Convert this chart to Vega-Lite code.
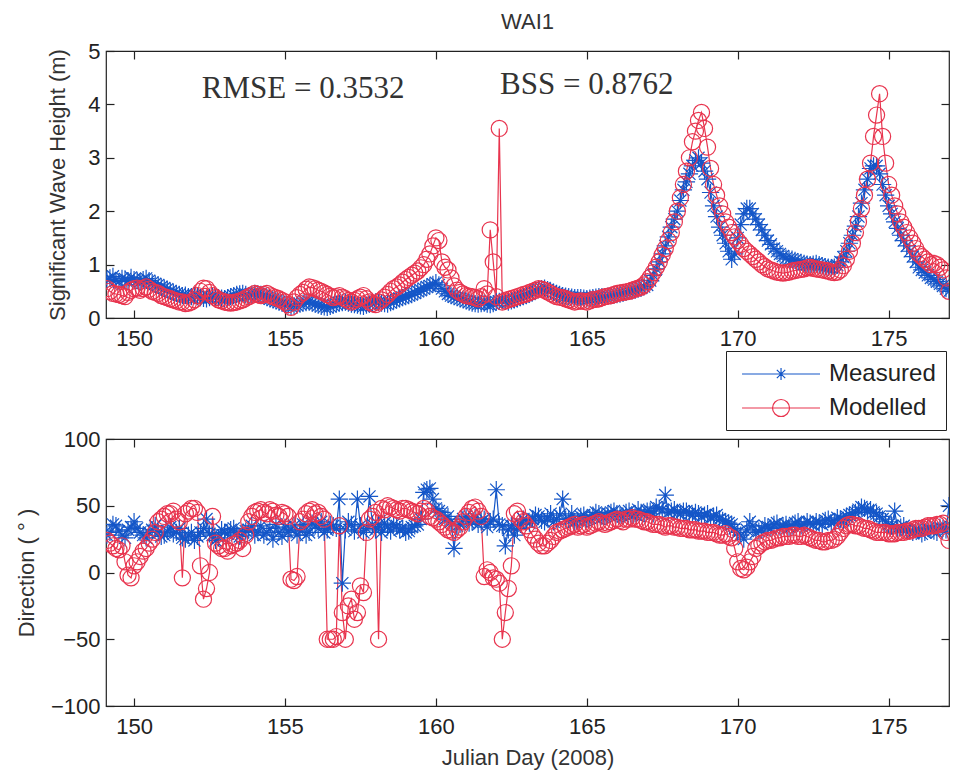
{
"$schema": "https://vega.github.io/schema/vega-lite/v6.json",
"padding": {"left": 14, "top": 10, "right": 5, "bottom": 5},
"spacing": 121,
"bounds": "flush",
"config": {
  "view": {"stroke": "#222", "strokeWidth": 1.2},
  "font": "Liberation Sans",
  "axis": {"grid": false, "domain": false, "tickColor": "#222", "tickSize": 8, "offset": -8, "tickWidth": 1.2, "labelFont": "Liberation Sans", "labelFontSize": 22, "labelColor": "#222", "titleFont": "Liberation Sans", "titleFontSize": 22, "titleFontWeight": "normal", "titleColor": "#333"},
  "axisX": {"labelPadding": 10},
  "axisY": {"labelPadding": 6}
},
"resolve": {"scale": {"color": "independent", "stroke": "independent", "shape": "independent"}},
"datasets": {
"hs": [
{"d":149.1,"Measured":0.72,"Modelled":0.55},{"d":149.2,"Measured":0.75,"Modelled":0.50},{"d":149.3,"Measured":0.78,"Modelled":0.46},{"d":149.4,"Measured":0.70,"Modelled":0.45},{"d":149.5,"Measured":0.68,"Modelled":0.44},{"d":149.6,"Measured":0.74,"Modelled":0.42},{"d":149.7,"Measured":0.73,"Modelled":0.40},{"d":149.8,"Measured":0.70,"Modelled":0.48},{"d":149.9,"Measured":0.76,"Modelled":0.52},
{"d":150.0,"Measured":0.72,"Modelled":0.55},{"d":150.1,"Measured":0.70,"Modelled":0.56},{"d":150.2,"Measured":0.68,"Modelled":0.52},{"d":150.3,"Measured":0.72,"Modelled":0.55},{"d":150.4,"Measured":0.74,"Modelled":0.58},{"d":150.5,"Measured":0.70,"Modelled":0.54},{"d":150.6,"Measured":0.66,"Modelled":0.50},{"d":150.7,"Measured":0.64,"Modelled":0.48},{"d":150.8,"Measured":0.62,"Modelled":0.46},{"d":150.9,"Measured":0.58,"Modelled":0.42},
{"d":151.0,"Measured":0.56,"Modelled":0.40},{"d":151.1,"Measured":0.54,"Modelled":0.38},{"d":151.2,"Measured":0.50,"Modelled":0.36},{"d":151.3,"Measured":0.48,"Modelled":0.34},{"d":151.4,"Measured":0.46,"Modelled":0.32},{"d":151.5,"Measured":0.44,"Modelled":0.30},{"d":151.6,"Measured":0.42,"Modelled":0.30},{"d":151.7,"Measured":0.43,"Modelled":0.27},{"d":151.8,"Measured":0.40,"Modelled":0.28},{"d":151.9,"Measured":0.40,"Modelled":0.30},
{"d":152.0,"Measured":0.42,"Modelled":0.34},{"d":152.1,"Measured":0.40,"Modelled":0.42},{"d":152.2,"Measured":0.38,"Modelled":0.50},{"d":152.3,"Measured":0.37,"Modelled":0.56},{"d":152.4,"Measured":0.36,"Modelled":0.55},{"d":152.5,"Measured":0.38,"Modelled":0.48},{"d":152.6,"Measured":0.40,"Modelled":0.42},{"d":152.7,"Measured":0.39,"Modelled":0.38},{"d":152.8,"Measured":0.38,"Modelled":0.34},{"d":152.9,"Measured":0.37,"Modelled":0.32},
{"d":153.0,"Measured":0.36,"Modelled":0.30},{"d":153.1,"Measured":0.38,"Modelled":0.29},{"d":153.2,"Measured":0.40,"Modelled":0.28},{"d":153.3,"Measured":0.42,"Modelled":0.29},{"d":153.4,"Measured":0.44,"Modelled":0.30},{"d":153.5,"Measured":0.45,"Modelled":0.32},{"d":153.6,"Measured":0.46,"Modelled":0.34},{"d":153.7,"Measured":0.44,"Modelled":0.37},{"d":153.8,"Measured":0.42,"Modelled":0.40},{"d":153.9,"Measured":0.44,"Modelled":0.43},
{"d":154.0,"Measured":0.46,"Modelled":0.46},{"d":154.1,"Measured":0.45,"Modelled":0.44},{"d":154.2,"Measured":0.44,"Modelled":0.42},{"d":154.3,"Measured":0.41,"Modelled":0.44},{"d":154.4,"Measured":0.38,"Modelled":0.46},{"d":154.5,"Measured":0.36,"Modelled":0.43},{"d":154.6,"Measured":0.34,"Modelled":0.40},{"d":154.7,"Measured":0.32,"Modelled":0.38},{"d":154.8,"Measured":0.30,"Modelled":0.36},{"d":154.9,"Measured":0.28,"Modelled":0.33},
{"d":155.0,"Measured":0.26,"Modelled":0.30},{"d":155.1,"Measured":0.24,"Modelled":0.25},{"d":155.2,"Measured":0.22,"Modelled":0.20},{"d":155.3,"Measured":0.23,"Modelled":0.30},{"d":155.4,"Measured":0.24,"Modelled":0.38},{"d":155.5,"Measured":0.26,"Modelled":0.44},{"d":155.6,"Measured":0.28,"Modelled":0.48},{"d":155.7,"Measured":0.29,"Modelled":0.54},{"d":155.8,"Measured":0.30,"Modelled":0.58},{"d":155.9,"Measured":0.28,"Modelled":0.57},
{"d":156.0,"Measured":0.26,"Modelled":0.55},{"d":156.1,"Measured":0.24,"Modelled":0.52},{"d":156.2,"Measured":0.22,"Modelled":0.50},{"d":156.3,"Measured":0.21,"Modelled":0.47},{"d":156.4,"Measured":0.20,"Modelled":0.44},{"d":156.5,"Measured":0.22,"Modelled":0.41},{"d":156.6,"Measured":0.24,"Modelled":0.38},{"d":156.7,"Measured":0.26,"Modelled":0.40},{"d":156.8,"Measured":0.28,"Modelled":0.42},{"d":156.9,"Measured":0.29,"Modelled":0.39},
{"d":157.0,"Measured":0.30,"Modelled":0.36},{"d":157.1,"Measured":0.28,"Modelled":0.33},{"d":157.2,"Measured":0.26,"Modelled":0.30},{"d":157.3,"Measured":0.25,"Modelled":0.33},{"d":157.4,"Measured":0.24,"Modelled":0.36},{"d":157.5,"Measured":0.23,"Modelled":0.39},{"d":157.6,"Measured":0.22,"Modelled":0.42},{"d":157.7,"Measured":0.24,"Modelled":0.36},{"d":157.8,"Measured":0.26,"Modelled":0.30},{"d":157.9,"Measured":0.28,"Modelled":0.27},
{"d":158.0,"Measured":0.30,"Modelled":0.25},{"d":158.1,"Measured":0.29,"Modelled":0.30},{"d":158.2,"Measured":0.28,"Modelled":0.34},{"d":158.3,"Measured":0.27,"Modelled":0.39},{"d":158.4,"Measured":0.26,"Modelled":0.44},{"d":158.5,"Measured":0.29,"Modelled":0.50},{"d":158.6,"Measured":0.32,"Modelled":0.55},{"d":158.7,"Measured":0.34,"Modelled":0.58},{"d":158.8,"Measured":0.36,"Modelled":0.62},{"d":158.9,"Measured":0.38,"Modelled":0.67},
{"d":159.0,"Measured":0.40,"Modelled":0.72},{"d":159.1,"Measured":0.42,"Modelled":0.76},{"d":159.2,"Measured":0.44,"Modelled":0.80},{"d":159.3,"Measured":0.47,"Modelled":0.84},{"d":159.4,"Measured":0.50,"Modelled":0.88},{"d":159.5,"Measured":0.52,"Modelled":0.94},{"d":159.6,"Measured":0.55,"Modelled":1.00},{"d":159.7,"Measured":0.58,"Modelled":1.10},{"d":159.8,"Measured":0.60,"Modelled":1.20},{"d":159.9,"Measured":0.63,"Modelled":1.35},
{"d":160.0,"Measured":0.66,"Modelled":1.50},{"d":160.1,"Measured":0.62,"Modelled":1.45},{"d":160.2,"Measured":0.55,"Modelled":1.05},{"d":160.3,"Measured":0.50,"Modelled":0.95},{"d":160.4,"Measured":0.45,"Modelled":0.90},{"d":160.5,"Measured":0.42,"Modelled":0.75},{"d":160.6,"Measured":0.40,"Modelled":0.60},{"d":160.7,"Measured":0.38,"Modelled":0.52},{"d":160.8,"Measured":0.36,"Modelled":0.48},{"d":160.9,"Measured":0.34,"Modelled":0.45},
{"d":161.0,"Measured":0.32,"Modelled":0.42},{"d":161.1,"Measured":0.30,"Modelled":0.41},{"d":161.2,"Measured":0.28,"Modelled":0.40},{"d":161.3,"Measured":0.27,"Modelled":0.38},{"d":161.4,"Measured":0.26,"Modelled":0.36},{"d":161.5,"Measured":0.27,"Modelled":0.40},{"d":161.6,"Measured":0.28,"Modelled":0.55},{"d":161.7,"Measured":0.26,"Modelled":0.45},{"d":161.8,"Measured":0.25,"Modelled":1.65},{"d":161.9,"Measured":0.27,"Modelled":1.05},
{"d":162.0,"Measured":0.30,"Modelled":0.40},{"d":162.1,"Measured":0.31,"Modelled":3.55},{"d":162.2,"Measured":0.32,"Modelled":0.30},{"d":162.3,"Measured":0.31,"Modelled":0.32},{"d":162.4,"Measured":0.30,"Modelled":0.35},{"d":162.5,"Measured":0.32,"Modelled":0.36},{"d":162.6,"Measured":0.34,"Modelled":0.38},{"d":162.7,"Measured":0.36,"Modelled":0.40},{"d":162.8,"Measured":0.38,"Modelled":0.42},{"d":162.9,"Measured":0.40,"Modelled":0.44},
{"d":163.0,"Measured":0.42,"Modelled":0.45},{"d":163.1,"Measured":0.45,"Modelled":0.48},{"d":163.2,"Measured":0.48,"Modelled":0.50},{"d":163.3,"Measured":0.51,"Modelled":0.52},{"d":163.4,"Measured":0.54,"Modelled":0.55},{"d":163.5,"Measured":0.55,"Modelled":0.54},{"d":163.6,"Measured":0.56,"Modelled":0.52},{"d":163.7,"Measured":0.53,"Modelled":0.49},{"d":163.8,"Measured":0.50,"Modelled":0.46},{"d":163.9,"Measured":0.48,"Modelled":0.43},
{"d":164.0,"Measured":0.46,"Modelled":0.40},{"d":164.1,"Measured":0.44,"Modelled":0.39},{"d":164.2,"Measured":0.42,"Modelled":0.38},{"d":164.3,"Measured":0.41,"Modelled":0.36},{"d":164.4,"Measured":0.40,"Modelled":0.34},{"d":164.5,"Measured":0.39,"Modelled":0.32},{"d":164.6,"Measured":0.38,"Modelled":0.30},{"d":164.7,"Measured":0.38,"Modelled":0.31},{"d":164.8,"Measured":0.38,"Modelled":0.32},{"d":164.9,"Measured":0.37,"Modelled":0.31},
{"d":165.0,"Measured":0.36,"Modelled":0.30},{"d":165.1,"Measured":0.37,"Modelled":0.32},{"d":165.2,"Measured":0.38,"Modelled":0.35},{"d":165.3,"Measured":0.39,"Modelled":0.35},{"d":165.4,"Measured":0.40,"Modelled":0.36},{"d":165.5,"Measured":0.40,"Modelled":0.38},{"d":165.6,"Measured":0.40,"Modelled":0.40},{"d":165.7,"Measured":0.41,"Modelled":0.41},{"d":165.8,"Measured":0.42,"Modelled":0.42},{"d":165.9,"Measured":0.43,"Modelled":0.44},
{"d":166.0,"Measured":0.44,"Modelled":0.46},{"d":166.1,"Measured":0.45,"Modelled":0.47},{"d":166.2,"Measured":0.46,"Modelled":0.48},{"d":166.3,"Measured":0.48,"Modelled":0.49},{"d":166.4,"Measured":0.50,"Modelled":0.50},{"d":166.5,"Measured":0.51,"Modelled":0.52},{"d":166.6,"Measured":0.52,"Modelled":0.54},{"d":166.7,"Measured":0.54,"Modelled":0.56},{"d":166.8,"Measured":0.56,"Modelled":0.58},{"d":166.9,"Measured":0.59,"Modelled":0.62},
{"d":167.0,"Measured":0.62,"Modelled":0.68},{"d":167.1,"Measured":0.70,"Modelled":0.76},{"d":167.2,"Measured":0.80,"Modelled":0.85},{"d":167.3,"Measured":0.92,"Modelled":0.95},{"d":167.4,"Measured":1.05,"Modelled":1.05},{"d":167.5,"Measured":1.20,"Modelled":1.18},{"d":167.6,"Measured":1.35,"Modelled":1.30},{"d":167.7,"Measured":1.52,"Modelled":1.45},{"d":167.8,"Measured":1.70,"Modelled":1.60},{"d":167.9,"Measured":1.85,"Modelled":1.80},
{"d":168.0,"Measured":2.00,"Modelled":2.00},{"d":168.1,"Measured":2.20,"Modelled":2.25},{"d":168.2,"Measured":2.40,"Modelled":2.50},{"d":168.3,"Measured":2.55,"Modelled":2.75},{"d":168.4,"Measured":2.70,"Modelled":3.00},{"d":168.5,"Measured":2.85,"Modelled":3.30},{"d":168.6,"Measured":2.95,"Modelled":3.50},{"d":168.7,"Measured":3.00,"Modelled":3.70},{"d":168.8,"Measured":2.90,"Modelled":3.85},{"d":168.9,"Measured":2.75,"Modelled":3.55},
{"d":169.0,"Measured":2.60,"Modelled":3.20},{"d":169.1,"Measured":2.35,"Modelled":2.80},{"d":169.2,"Measured":2.10,"Modelled":2.50},{"d":169.3,"Measured":1.90,"Modelled":2.30},{"d":169.4,"Measured":1.70,"Modelled":2.10},{"d":169.5,"Measured":1.55,"Modelled":1.95},{"d":169.6,"Measured":1.40,"Modelled":1.80},{"d":169.7,"Measured":1.25,"Modelled":1.70},{"d":169.8,"Measured":1.10,"Modelled":1.60},{"d":169.9,"Measured":1.20,"Modelled":1.52},
{"d":170.0,"Measured":1.50,"Modelled":1.45},{"d":170.1,"Measured":1.75,"Modelled":1.38},{"d":170.2,"Measured":1.95,"Modelled":1.30},{"d":170.3,"Measured":2.05,"Modelled":1.25},{"d":170.4,"Measured":2.05,"Modelled":1.20},{"d":170.5,"Measured":1.95,"Modelled":1.15},{"d":170.6,"Measured":1.85,"Modelled":1.10},{"d":170.7,"Measured":1.75,"Modelled":1.05},{"d":170.8,"Measured":1.65,"Modelled":1.00},{"d":170.9,"Measured":1.55,"Modelled":0.96},
{"d":171.0,"Measured":1.45,"Modelled":0.92},{"d":171.1,"Measured":1.38,"Modelled":0.90},{"d":171.2,"Measured":1.30,"Modelled":0.88},{"d":171.3,"Measured":1.25,"Modelled":0.86},{"d":171.4,"Measured":1.20,"Modelled":0.85},{"d":171.5,"Measured":1.16,"Modelled":0.84},{"d":171.6,"Measured":1.12,"Modelled":0.85},{"d":171.7,"Measured":1.10,"Modelled":0.86},{"d":171.8,"Measured":1.10,"Modelled":0.88},{"d":171.9,"Measured":1.08,"Modelled":0.89},
{"d":172.0,"Measured":1.05,"Modelled":0.90},{"d":172.1,"Measured":1.04,"Modelled":0.91},{"d":172.2,"Measured":1.02,"Modelled":0.92},{"d":172.3,"Measured":1.01,"Modelled":0.94},{"d":172.4,"Measured":1.00,"Modelled":0.95},{"d":172.5,"Measured":1.01,"Modelled":0.93},{"d":172.6,"Measured":1.02,"Modelled":0.92},{"d":172.7,"Measured":1.00,"Modelled":0.91},{"d":172.8,"Measured":0.98,"Modelled":0.90},{"d":172.9,"Measured":0.96,"Modelled":0.89},
{"d":173.0,"Measured":0.95,"Modelled":0.88},{"d":173.1,"Measured":0.94,"Modelled":0.86},{"d":173.2,"Measured":0.95,"Modelled":0.85},{"d":173.3,"Measured":0.99,"Modelled":0.86},{"d":173.4,"Measured":1.05,"Modelled":0.90},{"d":173.5,"Measured":1.14,"Modelled":0.98},{"d":173.6,"Measured":1.25,"Modelled":1.10},{"d":173.7,"Measured":1.40,"Modelled":1.25},{"d":173.8,"Measured":1.55,"Modelled":1.40},{"d":173.9,"Measured":1.72,"Modelled":1.60},
{"d":174.0,"Measured":1.90,"Modelled":1.80},{"d":174.1,"Measured":2.15,"Modelled":2.05},{"d":174.2,"Measured":2.40,"Modelled":2.30},{"d":174.3,"Measured":2.60,"Modelled":2.60},{"d":174.4,"Measured":2.80,"Modelled":2.90},{"d":174.5,"Measured":2.85,"Modelled":3.40},{"d":174.6,"Measured":2.85,"Modelled":3.80},{"d":174.7,"Measured":2.70,"Modelled":4.20},{"d":174.8,"Measured":2.50,"Modelled":3.40},{"d":174.9,"Measured":2.30,"Modelled":2.90},
{"d":175.0,"Measured":2.10,"Modelled":2.50},{"d":175.1,"Measured":1.95,"Modelled":2.30},{"d":175.2,"Measured":1.80,"Modelled":2.10},{"d":175.3,"Measured":1.68,"Modelled":1.95},{"d":175.4,"Measured":1.55,"Modelled":1.80},{"d":175.5,"Measured":1.45,"Modelled":1.70},{"d":175.6,"Measured":1.35,"Modelled":1.60},{"d":175.7,"Measured":1.25,"Modelled":1.50},{"d":175.8,"Measured":1.15,"Modelled":1.40},{"d":175.9,"Measured":1.05,"Modelled":1.30},
{"d":176.0,"Measured":0.95,"Modelled":1.20},{"d":176.1,"Measured":0.90,"Modelled":1.15},{"d":176.2,"Measured":0.85,"Modelled":1.10},{"d":176.3,"Measured":0.80,"Modelled":1.05},{"d":176.4,"Measured":0.75,"Modelled":1.00},{"d":176.5,"Measured":0.72,"Modelled":1.02},{"d":176.6,"Measured":0.68,"Modelled":1.00},{"d":176.7,"Measured":0.64,"Modelled":0.95},{"d":176.8,"Measured":0.60,"Modelled":0.90},{"d":176.9,"Measured":0.55,"Modelled":0.75},
{"d":177.0,"Measured":0.50,"Modelled":0.50}
],
"dir": [
{"d":149.1,"Measured":28,"Modelled":24},{"d":149.2,"Measured":30,"Modelled":22},{"d":149.3,"Measured":36,"Modelled":20},{"d":149.4,"Measured":35,"Modelled":18},{"d":149.5,"Measured":31,"Modelled":17},{"d":149.6,"Measured":28,"Modelled":20},{"d":149.7,"Measured":26,"Modelled":8},{"d":149.8,"Measured":32,"Modelled":-2},{"d":149.9,"Measured":34,"Modelled":-4},
{"d":150.0,"Measured":38,"Modelled":5},{"d":150.1,"Measured":33,"Modelled":8},{"d":150.2,"Measured":30,"Modelled":12},{"d":150.3,"Measured":28,"Modelled":16},{"d":150.4,"Measured":26,"Modelled":18},{"d":150.5,"Measured":30,"Modelled":22},{"d":150.6,"Measured":32,"Modelled":25},{"d":150.7,"Measured":35,"Modelled":30},{"d":150.8,"Measured":30,"Modelled":38},{"d":150.9,"Measured":27,"Modelled":40},
{"d":151.0,"Measured":28,"Modelled":42},{"d":151.1,"Measured":31,"Modelled":44},{"d":151.2,"Measured":34,"Modelled":44},{"d":151.3,"Measured":29,"Modelled":46},{"d":151.4,"Measured":30,"Modelled":40},{"d":151.5,"Measured":33,"Modelled":38},{"d":151.6,"Measured":26,"Modelled":-4},{"d":151.7,"Measured":25,"Modelled":44},{"d":151.8,"Measured":28,"Modelled":46},{"d":151.9,"Measured":30,"Modelled":48},
{"d":152.0,"Measured":24,"Modelled":48},{"d":152.1,"Measured":27,"Modelled":45},{"d":152.2,"Measured":30,"Modelled":5},{"d":152.3,"Measured":33,"Modelled":-20},{"d":152.4,"Measured":40,"Modelled":-12},{"d":152.5,"Measured":29,"Modelled":0},{"d":152.6,"Measured":28,"Modelled":42},{"d":152.7,"Measured":24,"Modelled":22},{"d":152.8,"Measured":26,"Modelled":20},{"d":152.9,"Measured":32,"Modelled":18},
{"d":153.0,"Measured":30,"Modelled":18},{"d":153.1,"Measured":29,"Modelled":16},{"d":153.2,"Measured":32,"Modelled":20},{"d":153.3,"Measured":33,"Modelled":21},{"d":153.4,"Measured":28,"Modelled":22},{"d":153.5,"Measured":27,"Modelled":24},{"d":153.6,"Measured":30,"Modelled":18},{"d":153.7,"Measured":31,"Modelled":28},{"d":153.8,"Measured":32,"Modelled":38},{"d":153.9,"Measured":35,"Modelled":42},
{"d":154.0,"Measured":28,"Modelled":45},{"d":154.1,"Measured":30,"Modelled":46},{"d":154.2,"Measured":35,"Modelled":47},{"d":154.3,"Measured":28,"Modelled":45},{"d":154.4,"Measured":30,"Modelled":44},{"d":154.5,"Measured":33,"Modelled":47},{"d":154.6,"Measured":25,"Modelled":46},{"d":154.7,"Measured":36,"Modelled":43},{"d":154.8,"Measured":30,"Modelled":42},{"d":154.9,"Measured":27,"Modelled":45},
{"d":155.0,"Measured":34,"Modelled":44},{"d":155.1,"Measured":30,"Modelled":42},{"d":155.2,"Measured":32,"Modelled":-5},{"d":155.3,"Measured":35,"Modelled":-6},{"d":155.4,"Measured":28,"Modelled":-3},{"d":155.5,"Measured":31,"Modelled":38},{"d":155.6,"Measured":36,"Modelled":40},{"d":155.7,"Measured":28,"Modelled":44},{"d":155.8,"Measured":30,"Modelled":46},{"d":155.9,"Measured":37,"Modelled":47},
{"d":156.0,"Measured":35,"Modelled":44},{"d":156.1,"Measured":33,"Modelled":45},{"d":156.2,"Measured":38,"Modelled":42},{"d":156.3,"Measured":30,"Modelled":40},{"d":156.4,"Measured":32,"Modelled":-50},{"d":156.5,"Measured":36,"Modelled":-50},{"d":156.6,"Measured":35,"Modelled":-50},{"d":156.7,"Measured":33,"Modelled":-48},{"d":156.8,"Measured":55,"Modelled":35},{"d":156.9,"Measured":-8,"Modelled":-30},
{"d":157.0,"Measured":32,"Modelled":-50},{"d":157.1,"Measured":38,"Modelled":-25},{"d":157.2,"Measured":36,"Modelled":-20},{"d":157.3,"Measured":31,"Modelled":-35},{"d":157.4,"Measured":55,"Modelled":-30},{"d":157.5,"Measured":35,"Modelled":-10},{"d":157.6,"Measured":30,"Modelled":-15},{"d":157.7,"Measured":33,"Modelled":30},{"d":157.8,"Measured":57,"Modelled":40},{"d":157.9,"Measured":36,"Modelled":42},
{"d":158.0,"Measured":32,"Modelled":45},{"d":158.1,"Measured":36,"Modelled":-50},{"d":158.2,"Measured":30,"Modelled":48},{"d":158.3,"Measured":37,"Modelled":47},{"d":158.4,"Measured":34,"Modelled":50},{"d":158.5,"Measured":31,"Modelled":49},{"d":158.6,"Measured":36,"Modelled":48},{"d":158.7,"Measured":35,"Modelled":47},{"d":158.8,"Measured":32,"Modelled":46},{"d":158.9,"Measured":33,"Modelled":48},
{"d":159.0,"Measured":30,"Modelled":48},{"d":159.1,"Measured":31,"Modelled":47},{"d":159.2,"Measured":34,"Modelled":46},{"d":159.3,"Measured":35,"Modelled":45},{"d":159.4,"Measured":36,"Modelled":44},{"d":159.5,"Measured":40,"Modelled":46},{"d":159.6,"Measured":60,"Modelled":48},{"d":159.7,"Measured":62,"Modelled":46},{"d":159.8,"Measured":63,"Modelled":42},{"d":159.9,"Measured":55,"Modelled":41},
{"d":160.0,"Measured":48,"Modelled":40},{"d":160.1,"Measured":46,"Modelled":38},{"d":160.2,"Measured":45,"Modelled":36},{"d":160.3,"Measured":40,"Modelled":34},{"d":160.4,"Measured":42,"Modelled":32},{"d":160.5,"Measured":38,"Modelled":31},{"d":160.6,"Measured":18,"Modelled":30},{"d":160.7,"Measured":35,"Modelled":32},{"d":160.8,"Measured":36,"Modelled":34},{"d":160.9,"Measured":40,"Modelled":38},
{"d":161.0,"Measured":42,"Modelled":42},{"d":161.1,"Measured":37,"Modelled":45},{"d":161.2,"Measured":38,"Modelled":48},{"d":161.3,"Measured":41,"Modelled":49},{"d":161.4,"Measured":36,"Modelled":46},{"d":161.5,"Measured":38,"Modelled":42},{"d":161.6,"Measured":40,"Modelled":-3},{"d":161.7,"Measured":34,"Modelled":2},{"d":161.8,"Measured":38,"Modelled":0},{"d":161.9,"Measured":40,"Modelled":-4},
{"d":162.0,"Measured":62,"Modelled":-5},{"d":162.1,"Measured":36,"Modelled":-8},{"d":162.2,"Measured":35,"Modelled":-50},{"d":162.3,"Measured":20,"Modelled":-30},{"d":162.4,"Measured":32,"Modelled":-12},{"d":162.5,"Measured":35,"Modelled":5},{"d":162.6,"Measured":28,"Modelled":44},{"d":162.7,"Measured":33,"Modelled":46},{"d":162.8,"Measured":36,"Modelled":40},{"d":162.9,"Measured":40,"Modelled":38},
{"d":163.0,"Measured":38,"Modelled":35},{"d":163.1,"Measured":37,"Modelled":32},{"d":163.2,"Measured":40,"Modelled":28},{"d":163.3,"Measured":43,"Modelled":25},{"d":163.4,"Measured":42,"Modelled":22},{"d":163.5,"Measured":39,"Modelled":20},{"d":163.6,"Measured":38,"Modelled":20},{"d":163.7,"Measured":41,"Modelled":22},{"d":163.8,"Measured":44,"Modelled":24},{"d":163.9,"Measured":38,"Modelled":27},
{"d":164.0,"Measured":40,"Modelled":30},{"d":164.1,"Measured":43,"Modelled":31},{"d":164.2,"Measured":55,"Modelled":32},{"d":164.3,"Measured":40,"Modelled":33},{"d":164.4,"Measured":40,"Modelled":34},{"d":164.5,"Measured":44,"Modelled":35},{"d":164.6,"Measured":38,"Modelled":36},{"d":164.7,"Measured":39,"Modelled":34},{"d":164.8,"Measured":42,"Modelled":35},{"d":164.9,"Measured":43,"Modelled":36},
{"d":165.0,"Measured":40,"Modelled":34},{"d":165.1,"Measured":41,"Modelled":35},{"d":165.2,"Measured":43,"Modelled":36},{"d":165.3,"Measured":45,"Modelled":37},{"d":165.4,"Measured":44,"Modelled":38},{"d":165.5,"Measured":42,"Modelled":37},{"d":165.6,"Measured":42,"Modelled":36},{"d":165.7,"Measured":44,"Modelled":37},{"d":165.8,"Measured":45,"Modelled":38},{"d":165.9,"Measured":46,"Modelled":39},
{"d":166.0,"Measured":44,"Modelled":40},{"d":166.1,"Measured":43,"Modelled":39},{"d":166.2,"Measured":42,"Modelled":38},{"d":166.3,"Measured":45,"Modelled":40},{"d":166.4,"Measured":46,"Modelled":40},{"d":166.5,"Measured":43,"Modelled":41},{"d":166.6,"Measured":44,"Modelled":40},{"d":166.7,"Measured":47,"Modelled":40},{"d":166.8,"Measured":45,"Modelled":39},{"d":166.9,"Measured":44,"Modelled":38},
{"d":167.0,"Measured":46,"Modelled":38},{"d":167.1,"Measured":46,"Modelled":37},{"d":167.2,"Measured":44,"Modelled":36},{"d":167.3,"Measured":49,"Modelled":36},{"d":167.4,"Measured":48,"Modelled":36},{"d":167.5,"Measured":47,"Modelled":35},{"d":167.6,"Measured":58,"Modelled":34},{"d":167.7,"Measured":45,"Modelled":35},{"d":167.8,"Measured":46,"Modelled":35},{"d":167.9,"Measured":47,"Modelled":34},
{"d":168.0,"Measured":45,"Modelled":34},{"d":168.1,"Measured":44,"Modelled":33},{"d":168.2,"Measured":46,"Modelled":33},{"d":168.3,"Measured":46,"Modelled":33},{"d":168.4,"Measured":44,"Modelled":32},{"d":168.5,"Measured":43,"Modelled":32},{"d":168.6,"Measured":45,"Modelled":32},{"d":168.7,"Measured":44,"Modelled":31},{"d":168.8,"Measured":42,"Modelled":31},{"d":168.9,"Measured":43,"Modelled":31},
{"d":169.0,"Measured":44,"Modelled":30},{"d":169.1,"Measured":41,"Modelled":30},{"d":169.2,"Measured":42,"Modelled":30},{"d":169.3,"Measured":43,"Modelled":29},{"d":169.4,"Measured":40,"Modelled":28},{"d":169.5,"Measured":39,"Modelled":28},{"d":169.6,"Measured":38,"Modelled":29},{"d":169.7,"Measured":37,"Modelled":27},{"d":169.8,"Measured":36,"Modelled":26},{"d":169.9,"Measured":33,"Modelled":18},
{"d":170.0,"Measured":30,"Modelled":8},{"d":170.1,"Measured":28,"Modelled":3},{"d":170.2,"Measured":25,"Modelled":2},{"d":170.3,"Measured":32,"Modelled":4},{"d":170.4,"Measured":38,"Modelled":8},{"d":170.5,"Measured":35,"Modelled":12},{"d":170.6,"Measured":30,"Modelled":18},{"d":170.7,"Measured":31,"Modelled":20},{"d":170.8,"Measured":32,"Modelled":22},{"d":170.9,"Measured":35,"Modelled":23},
{"d":171.0,"Measured":34,"Modelled":24},{"d":171.1,"Measured":33,"Modelled":24},{"d":171.2,"Measured":36,"Modelled":25},{"d":171.3,"Measured":37,"Modelled":26},{"d":171.4,"Measured":34,"Modelled":26},{"d":171.5,"Measured":35,"Modelled":27},{"d":171.6,"Measured":36,"Modelled":27},{"d":171.7,"Measured":34,"Modelled":27},{"d":171.8,"Measured":35,"Modelled":28},{"d":171.9,"Measured":37,"Modelled":28},
{"d":172.0,"Measured":38,"Modelled":27},{"d":172.1,"Measured":35,"Modelled":27},{"d":172.2,"Measured":36,"Modelled":28},{"d":172.3,"Measured":38,"Modelled":27},{"d":172.4,"Measured":37,"Modelled":26},{"d":172.5,"Measured":36,"Modelled":25},{"d":172.6,"Measured":38,"Modelled":24},{"d":172.7,"Measured":37,"Modelled":24},{"d":172.8,"Measured":36,"Modelled":23},{"d":172.9,"Measured":39,"Modelled":23},
{"d":173.0,"Measured":40,"Modelled":24},{"d":173.1,"Measured":37,"Modelled":24},{"d":173.2,"Measured":38,"Modelled":25},{"d":173.3,"Measured":41,"Modelled":27},{"d":173.4,"Measured":40,"Modelled":30},{"d":173.5,"Measured":39,"Modelled":33},{"d":173.6,"Measured":42,"Modelled":35},{"d":173.7,"Measured":43,"Modelled":36},{"d":173.8,"Measured":44,"Modelled":36},{"d":173.9,"Measured":45,"Modelled":35},
{"d":174.0,"Measured":47,"Modelled":35},{"d":174.1,"Measured":49,"Modelled":34},{"d":174.2,"Measured":48,"Modelled":33},{"d":174.3,"Measured":46,"Modelled":33},{"d":174.4,"Measured":47,"Modelled":32},{"d":174.5,"Measured":45,"Modelled":31},{"d":174.6,"Measured":44,"Modelled":30},{"d":174.7,"Measured":42,"Modelled":30},{"d":174.8,"Measured":40,"Modelled":30},{"d":174.9,"Measured":38,"Modelled":30},
{"d":175.0,"Measured":36,"Modelled":29},{"d":175.1,"Measured":35,"Modelled":29},{"d":175.2,"Measured":46,"Modelled":29},{"d":175.3,"Measured":33,"Modelled":30},{"d":175.4,"Measured":34,"Modelled":30},{"d":175.5,"Measured":35,"Modelled":30},{"d":175.6,"Measured":32,"Modelled":31},{"d":175.7,"Measured":31,"Modelled":31},{"d":175.8,"Measured":30,"Modelled":32},{"d":175.9,"Measured":32,"Modelled":33},
{"d":176.0,"Measured":31,"Modelled":33},{"d":176.1,"Measured":29,"Modelled":33},{"d":176.2,"Measured":30,"Modelled":34},{"d":176.3,"Measured":33,"Modelled":35},{"d":176.4,"Measured":32,"Modelled":35},{"d":176.5,"Measured":31,"Modelled":35},{"d":176.6,"Measured":30,"Modelled":36},{"d":176.7,"Measured":34,"Modelled":36},{"d":176.8,"Measured":33,"Modelled":37},{"d":176.9,"Measured":32,"Modelled":30},
{"d":177.0,"Measured":50,"Modelled":24}
],
"notes": [{"d":155.6,"h":4.12,"label":"RMSE = 0.3532"},{"d":165.0,"h":4.2,"label":"BSS = 0.8762"}]
},
"vconcat": [
{
  "width": 843, "height": 267,
  "title": {"text": "WAI1", "fontSize": 22, "fontWeight": "normal", "color": "#333", "font": "Liberation Sans", "anchor": "middle", "frame": "group", "offset": 6},
  "layer": [
    {
      "data": {"name": "hs"},
      "transform": [{"fold": ["Measured", "Modelled"], "as": ["series", "value"]}, {"filter": "isValid(datum.value)"}],
      "mark": {"type": "line", "strokeWidth": 1.2, "clip": true},
      "encoding": {
        "x": {"field": "d", "type": "quantitative", "scale": {"domain": [149.07, 177], "nice": false, "zero": false}, "axis": {"orient": "bottom", "values": [150,155,160,165,170,175], "title": null}},
        "y": {"field": "value", "type": "quantitative", "scale": {"domain": [0, 5], "nice": false}, "axis": {"orient": "left", "values": [0,1,2,3,4,5], "title": "Significant Wave Height (m)", "titlePadding": 18}},
        "color": {"field": "series", "type": "nominal", "scale": {"domain": ["Measured", "Modelled"], "range": ["#1456c8", "#e8344e"]},
          "legend": {"orient": "none", "legendX": 620, "legendY": 300, "title": null, "strokeColor": "#222", "fillColor": "white", "padding": 10, "labelFontSize": 24, "labelFont": "Liberation Sans", "labelColor": "#222", "symbolSize": 576, "symbolStrokeWidth": 1.2, "symbolOpacity": 1, "rowPadding": 9, "labelOffset": 67}}
      }
    },
    {
      "data": {"name": "hs"},
      "transform": [{"fold": ["Measured"], "as": ["series", "value"]}, {"filter": "isValid(datum.value)"}],
      "mark": {"type": "point", "shape": "M-1,0L1,0M0,-1L0,1M-0.7,-0.7L0.7,0.7M-0.7,0.7L0.7,-0.7", "filled": false, "size": 300, "strokeWidth": 1.2, "stroke": "#1456c8", "opacity": 1, "clip": true},
      "encoding": {
        "x": {"field": "d", "type": "quantitative", "scale": {"domain": [149.07, 177], "nice": false, "zero": false}, "axis": null},
        "y": {"field": "value", "type": "quantitative", "scale": {"domain": [0, 5], "nice": false}, "axis": null}
      }
    },
    {
      "data": {"name": "hs"},
      "transform": [{"fold": ["Modelled"], "as": ["series", "value"]}, {"filter": "isValid(datum.value)"}],
      "mark": {"type": "point", "shape": "circle", "filled": false, "size": 260, "strokeWidth": 1.2, "stroke": "#e8344e", "opacity": 1, "clip": true},
      "encoding": {
        "x": {"field": "d", "type": "quantitative", "scale": {"domain": [149.07, 177], "nice": false, "zero": false}, "axis": null},
        "y": {"field": "value", "type": "quantitative", "scale": {"domain": [0, 5], "nice": false}, "axis": null}
      }
    },
    {
      "data": {"name": "notes"},
      "mark": {"type": "text", "font": "Liberation Serif", "fontSize": 31, "color": "#333", "baseline": "alphabetic", "align": "center"},
      "encoding": {
        "x": {"field": "d", "type": "quantitative", "scale": {"domain": [149.07, 177], "nice": false, "zero": false}, "axis": null},
        "y": {"field": "h", "type": "quantitative", "scale": {"domain": [0, 5], "nice": false}, "axis": null},
        "text": {"field": "label"}
      }
    },
    {
      "data": {"name": "hs"},
      "transform": [{"fold": ["Measured", "Modelled"], "as": ["series", "value"]}, {"filter": "isValid(datum.value)"}],
      "mark": {"type": "point", "filled": false, "strokeWidth": 1.2, "size": 0, "opacity": 1},
      "encoding": {
        "x": {"field": "d", "type": "quantitative", "scale": {"domain": [149.07, 177], "nice": false, "zero": false}, "axis": {"orient": "top", "values": [150,155,160,165,170,175], "labels": false, "title": null}},
        "y": {"field": "value", "type": "quantitative", "scale": {"domain": [0, 5], "nice": false}, "axis": {"orient": "right", "values": [0,1,2,3,4,5], "labels": false, "title": null}},
        "stroke": {"field": "series", "type": "nominal", "scale": {"domain": ["Measured", "Modelled"], "range": ["#1456c8", "#e8344e"]},
          "legend": {"orient": "none", "legendX": 620, "legendY": 300, "title": null, "strokeColor": "#222", "fillColor": "white", "padding": 10, "labelFontSize": 24, "labelFont": "Liberation Sans", "labelColor": "#222", "symbolSize": 576, "symbolStrokeWidth": 1.2, "symbolOpacity": 1, "rowPadding": 9, "labelOffset": 67}},
        "shape": {"field": "series", "type": "nominal", "scale": {"domain": ["Measured", "Modelled"], "range": ["M-0.58,0L5.92,0M2.17,0L3.17,0M2.67,-0.5L2.67,0.5M2.32,-0.35L3.02,0.35M2.32,0.35L3.02,-0.35", "M-0.58,0L5.92,0M3.38,0A0.71,0.71,0,1,1,1.96,0A0.71,0.71,0,1,1,3.38,0"]}}
      }
    }
  ],
  "resolve": {"scale": {"x": "independent", "y": "independent"}}
},
{
  "width": 843, "height": 267,
  "layer": [
    {
      "data": {"name": "dir"},
      "transform": [{"fold": ["Measured", "Modelled"], "as": ["series", "value"]}, {"filter": "isValid(datum.value)"}],
      "mark": {"type": "line", "strokeWidth": 1.2, "clip": true},
      "encoding": {
        "x": {"field": "d", "type": "quantitative", "scale": {"domain": [149.07, 177], "nice": false, "zero": false}, "axis": {"orient": "bottom", "values": [150,155,160,165,170,175], "title": "Julian Day (2008)", "titlePadding": 10}},
        "y": {"field": "value", "type": "quantitative", "scale": {"domain": [-100, 100], "nice": false}, "axis": {"orient": "left", "values": [-100,-50,0,50,100], "title": "Direction ( ° )", "titlePadding": 12}},
        "color": {"field": "series", "type": "nominal", "scale": {"domain": ["Measured", "Modelled"], "range": ["#1456c8", "#e8344e"]}, "legend": null}
      }
    },
    {
      "data": {"name": "dir"},
      "transform": [{"fold": ["Measured"], "as": ["series", "value"]}, {"filter": "isValid(datum.value)"}],
      "mark": {"type": "point", "shape": "M-1,0L1,0M0,-1L0,1M-0.7,-0.7L0.7,0.7M-0.7,0.7L0.7,-0.7", "filled": false, "size": 300, "strokeWidth": 1.2, "stroke": "#1456c8", "opacity": 1, "clip": true},
      "encoding": {
        "x": {"field": "d", "type": "quantitative", "scale": {"domain": [149.07, 177], "nice": false, "zero": false}, "axis": {"orient": "top", "values": [150,155,160,165,170,175], "labels": false, "title": null}},
        "y": {"field": "value", "type": "quantitative", "scale": {"domain": [-100, 100], "nice": false}, "axis": {"orient": "right", "values": [-100,-50,0,50,100], "labels": false, "title": null}}
      }
    },
    {
      "data": {"name": "dir"},
      "transform": [{"fold": ["Modelled"], "as": ["series", "value"]}, {"filter": "isValid(datum.value)"}],
      "mark": {"type": "point", "shape": "circle", "filled": false, "size": 260, "strokeWidth": 1.2, "stroke": "#e8344e", "opacity": 1, "clip": true},
      "encoding": {
        "x": {"field": "d", "type": "quantitative", "scale": {"domain": [149.07, 177], "nice": false, "zero": false}, "axis": null},
        "y": {"field": "value", "type": "quantitative", "scale": {"domain": [-100, 100], "nice": false}, "axis": null}
      }
    }
  ],
  "resolve": {"scale": {"x": "independent", "y": "independent"}}
}
]
}
